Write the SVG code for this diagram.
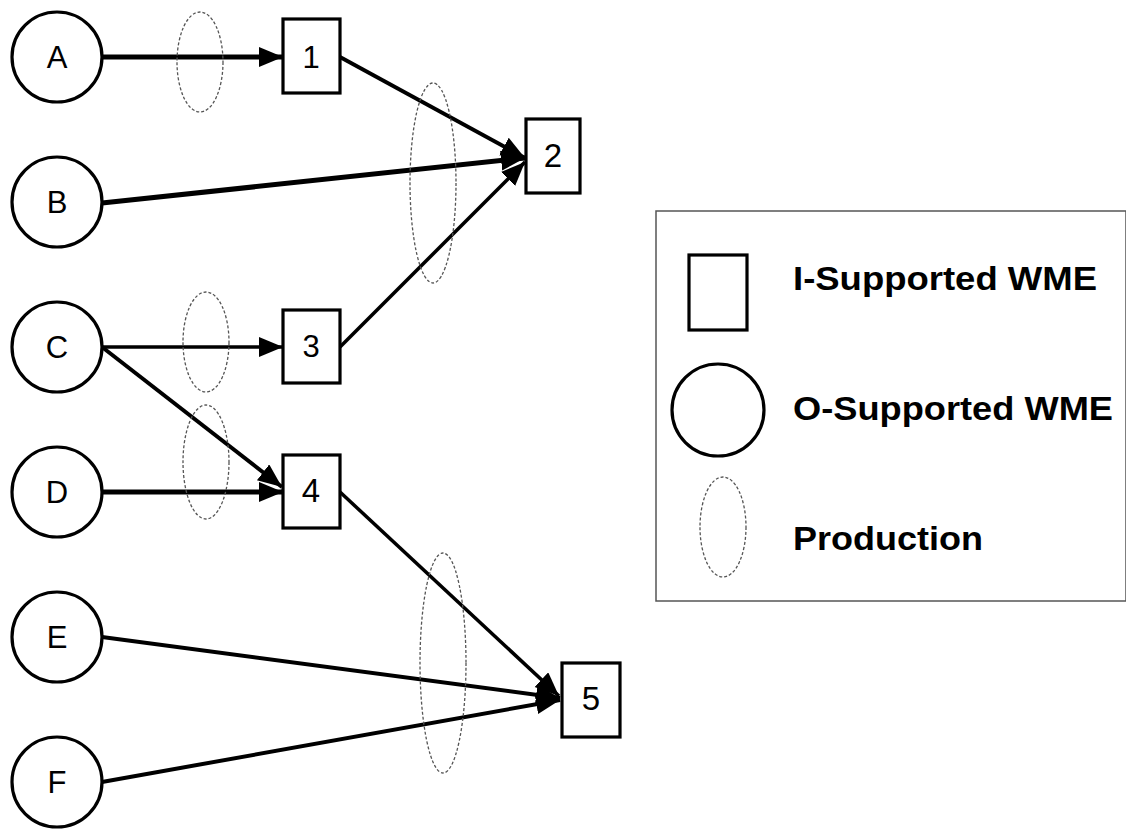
<svg xmlns="http://www.w3.org/2000/svg" width="1126" height="829" viewBox="0 0 1126 829">
  <style>
    .wme-o { fill: #fff; stroke: #000; stroke-width: 3.2; }
    .wme-i { fill: #fff; stroke: #000; stroke-width: 3.2; }
    .prod { fill: none; stroke: #555; stroke-width: 1.3; stroke-dasharray: 3 2; }
    .lbl { font-family: "Liberation Sans", Arial, sans-serif; font-size: 31px; fill: #000; text-anchor: middle; }
    .edge { stroke: #000; fill: none; marker-end: url(#arrow); }
    .legend-text { font-family: "Liberation Sans", Arial, sans-serif; font-weight: bold; font-size: 34px; fill: #000; }
  </style>
  <defs>
    <marker id="arrow" markerUnits="userSpaceOnUse" markerWidth="26" markerHeight="22" refX="24" refY="10" orient="auto">
      <path d="M0,0 L24,10 L0,20 z" fill="#000"/>
    </marker>
  </defs>

  <rect width="1126" height="829" fill="#fff"/>

  <!-- connectors -->
  <g id="connectors">
    <line class="edge" x1="102" y1="57" x2="283" y2="57" stroke-width="5"/>
    <line class="edge" x1="340" y1="57" x2="525" y2="158" stroke-width="4"/>
    <line class="edge" x1="102" y1="203" x2="525" y2="158" stroke-width="5"/>
    <line class="edge" x1="340" y1="347" x2="525" y2="162" stroke-width="3.5"/>
    <line class="edge" x1="102" y1="347" x2="283" y2="347" stroke-width="3.5"/>
    <line class="edge" x1="102" y1="347" x2="282" y2="487" stroke-width="4"/>
    <line class="edge" x1="102" y1="492" x2="283" y2="492" stroke-width="5"/>
    <line class="edge" x1="340" y1="492" x2="559" y2="696" stroke-width="3.5"/>
    <line class="edge" x1="102" y1="637" x2="560" y2="698" stroke-width="4"/>
    <line class="edge" x1="102" y1="782" x2="560" y2="700" stroke-width="4"/>
  </g>

  <!-- productions -->
  <g id="productions">
    <ellipse id="p1" class="prod" cx="200" cy="62" rx="23" ry="50"/>
    <ellipse id="p2" class="prod" cx="433" cy="183" rx="23" ry="100"/>
    <ellipse id="p3" class="prod" cx="206" cy="342" rx="23" ry="50"/>
    <ellipse id="p4" class="prod" cx="206" cy="462" rx="23" ry="57"/>
    <ellipse id="p5" class="prod" cx="443" cy="663" rx="23" ry="110"/>
  </g>

  <!-- O-supported WMEs -->
  <g id="node-A"><circle class="wme-o" cx="57" cy="57" r="45"/><text class="lbl" x="57" y="68">A</text></g>
  <g id="node-B"><circle class="wme-o" cx="57" cy="202" r="45"/><text class="lbl" x="57" y="213">B</text></g>
  <g id="node-C"><circle class="wme-o" cx="57" cy="347" r="45"/><text class="lbl" x="57" y="358">C</text></g>
  <g id="node-D"><circle class="wme-o" cx="57" cy="492" r="45"/><text class="lbl" x="57" y="503">D</text></g>
  <g id="node-E"><circle class="wme-o" cx="57" cy="637" r="45"/><text class="lbl" x="57" y="648">E</text></g>
  <g id="node-F"><circle class="wme-o" cx="57" cy="782" r="45"/><text class="lbl" x="57" y="793">F</text></g>

  <!-- I-supported WMEs -->
  <g id="node-1"><rect class="wme-i" x="283" y="19" width="57" height="74"/><text class="lbl" x="311" y="68">1</text></g>
  <g id="node-2"><rect class="wme-i" x="526" y="119" width="54" height="74"/><text class="lbl" x="553" y="167" style="font-size:33px">2</text></g>
  <g id="node-3"><rect class="wme-i" x="283" y="310" width="57" height="73"/><text class="lbl" x="311" y="357">3</text></g>
  <g id="node-4"><rect class="wme-i" x="283" y="455" width="57" height="73"/><text class="lbl" x="311" y="502" style="font-size:33px">4</text></g>
  <g id="node-5"><rect class="wme-i" x="562" y="663" width="58" height="74"/><text class="lbl" x="591" y="710" style="font-size:33px">5</text></g>

  <!-- legend -->
  <g id="legend">
    <rect x="656" y="211" width="470" height="390" fill="#fff" stroke="#555" stroke-width="1.5"/>
    <rect class="wme-i" x="689" y="255" width="58" height="75"/>
    <text class="legend-text" x="793" y="290" textLength="304" lengthAdjust="spacingAndGlyphs">I-Supported WME</text>
    <circle class="wme-o" cx="718" cy="410" r="46"/>
    <text class="legend-text" x="793" y="420" textLength="320" lengthAdjust="spacingAndGlyphs">O-Supported WME</text>
    <ellipse class="prod" cx="723" cy="527" rx="23" ry="50"/>
    <text class="legend-text" x="793" y="550" textLength="190" lengthAdjust="spacingAndGlyphs">Production</text>
  </g>
</svg>
